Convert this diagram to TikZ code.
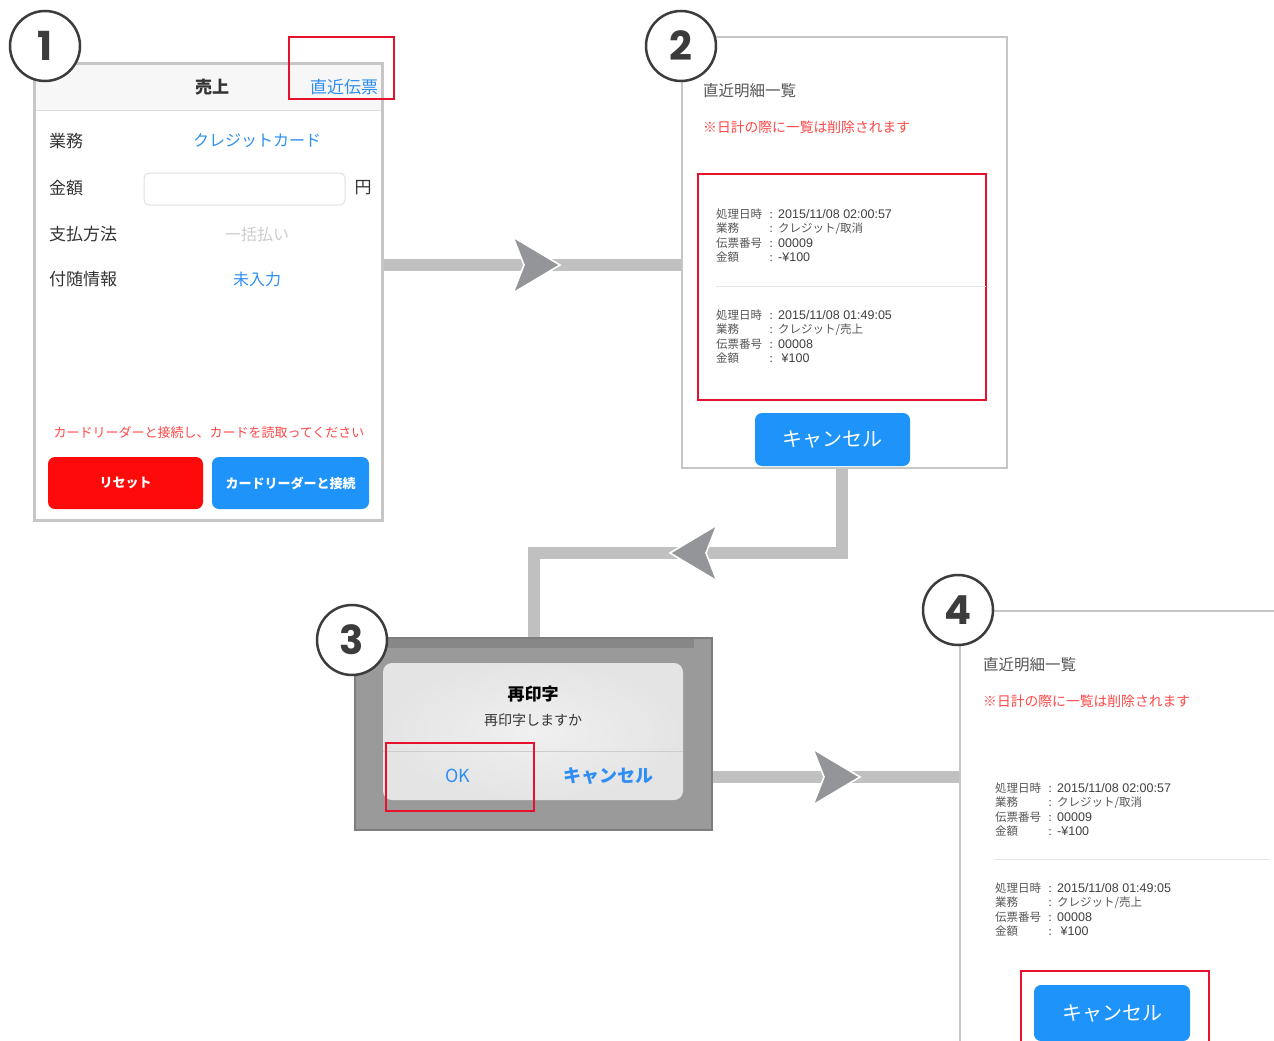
\documentclass[tikz,border=0pt]{standalone}
\usepackage{fontspec}
\setmainfont{Noto Sans CJK JP}
\newfontfamily\numfont{Poppins}
\newfontfamily\latn{Liberation Sans}
\definecolor{panelline}{HTML}{C6C6C6}
\definecolor{barg}{HTML}{C0C0C0}
\definecolor{headg}{HTML}{939598}
\definecolor{iosblue}{HTML}{2F8EF4}
\definecolor{btnblue}{HTML}{1E94FB}
\definecolor{btnred}{HTML}{FF0A0A}
\definecolor{hlred}{HTML}{E8112D}
\definecolor{warnred}{HTML}{FF4848}
\definecolor{txt}{HTML}{333333}
\definecolor{txtgray}{HTML}{555555}
\definecolor{numgray}{HTML}{404040}
\definecolor{circ}{HTML}{3C3C3C}
\definecolor{headfill}{HTML}{F7F7F7}
\definecolor{headline}{HTML}{DDDDDD}
\definecolor{fieldline}{HTML}{E0E0E0}
\definecolor{faintg}{HTML}{CDCDCD}
\definecolor{divg}{HTML}{E6E6E6}
\definecolor{dlgback}{HTML}{9A9A9A}
\definecolor{dlgstrip}{HTML}{878787}
\definecolor{dlgborder}{HTML}{7D7D7D}
\definecolor{dlgouter}{HTML}{E4E4E4}
\definecolor{dlginner}{HTML}{F0F0F0}
\definecolor{dlgsep}{HTML}{CDCDCD}
\newcommand{\recrow}[2]{\makebox[48pt][l]{#1}\makebox[14pt][c]{:}#2}
\newcommand{\nv}[1]{{\latn\fontsize{12.5}{12.5}\selectfont\color{numgray}#1}}
\tikzset{
  panelbox/.style={draw=panelline, line width=1.6pt, fill=white, inner sep=0pt},
  bar/.style={draw=barg, line width=12pt, line cap=butt, line join=miter},
  hlbox/.style={draw=hlred, line width=2pt},
  numcirc/.style={circle, draw=circ, line width=2.5pt, fill=white, minimum size=70pt, inner sep=0pt, font=\numfont\bfseries\fontsize{40}{40}\selectfont, text=circ},
  lbl/.style={inner sep=0pt, anchor=west, font=\fontsize{17}{17}\selectfont, text=txt},
  val/.style={inner sep=0pt, font=\fontsize{16}{16}\selectfont, text=iosblue},
  rec/.style={inner sep=0pt, anchor=west, font=\fontsize{11.5}{11.5}\selectfont, text=txtgray},
  ttl/.style={inner sep=0pt, anchor=west, font=\fontsize{15.5}{15.5}\selectfont, text=txtgray},
  warn/.style={inner sep=0pt, anchor=west, font=\fontsize{13.8}{13.8}\selectfont, text=warnred},
  btn/.style={rounded corners=7pt, inner sep=0pt, text=white},
  chev/.pic={\filldraw[fill=headg, draw=white, line width=1.6pt, line join=miter]
     (-47,-28) -- (0,0) -- (-47,28) -- (-36,0) -- cycle;}
}
\begin{document}
\begin{tikzpicture}[x=1pt,y=-1pt]
\useasboundingbox[fill=white] (0,0) rectangle (1274,1041);

% ---------- named reference coordinates for bar heights
\coordinate (r1) at (0,265);
\coordinate (r2) at (0,553);
\coordinate (r3) at (0,777);
\coordinate (x2) at (842,0);

% ---------- panel nodes
\node[panelbox, minimum width=347pt, minimum height=456pt] (p1) at (208.5,292) {};
\node[panelbox, minimum width=325pt, minimum height=431pt] (p2) at (844.5,252.5) {};
\node[draw=none, minimum width=340pt, minimum height=450pt, inner sep=0pt] (p4) at (1130,836) {};
\node[draw=none, minimum width=357pt, minimum height=192pt, inner sep=0pt] (p3) at (533.5,734) {};

% ---------- connectors
\draw[bar] (p1.east |- r1) -- (p2.west |- r1);
\pic at (560,265) {chev};

\draw[bar] (p2.south -| x2) -- (x2 |- r2) -- (p3.north |- r2) -- (p3.north);
\pic[rotate=180] at (670,553) {chev};

\draw[bar] (p3.east |- r3) -- (p4.west |- r3);
\pic at (860,777) {chev};

% ---------- panel 1
\fill[headfill] (36,65) rectangle (381,110);
\draw[headline, line width=1pt] (36,110.5) -- (381,110.5);
\draw[panelline, line width=1.6pt] (p1.north west) rectangle (p1.south east);
\node[inner sep=0pt, font=\bfseries\fontsize{17}{17}\selectfont, text=txt] (t1) at (212,87) {売上};
\node[inner sep=0pt, font=\fontsize{17}{17}\selectfont, text=iosblue] (t1r) at (344,87) {直近伝票};
\draw[hlbox] (289,37) rectangle (394,99);

\node[lbl] (l1) at (49,141) {業務};
\node[val] (v1) at (257,141) {クレジットカード};
\node[lbl] (l2) at (49,188) {金額};
\draw[fieldline, line width=1pt, rounded corners=5pt] (144,173) rectangle (345,205);
\node[inner sep=0pt, font=\fontsize{17}{17}\selectfont, text=txt] (yen) at (363,188) {円};
\node[lbl] (l3) at (49,234) {支払方法};
\node[val, text=faintg] (v3) at (257,234) {一括払い};
\node[lbl] (l4) at (49,279) {付随情報};
\node[val] (v4) at (257,279) {未入力};

\node[inner sep=0pt, font=\fontsize{13}{13}\selectfont, text=warnred] (w1) at (209,433) {カードリーダーと接続し、カードを読取ってください};
\node[btn, fill=btnred, minimum width=155pt, minimum height=52pt, font=\bfseries\fontsize{13}{13}\selectfont] (b1) at (125.5,483) {リセット};
\node[btn, fill=btnblue, minimum width=157pt, minimum height=52pt, font=\bfseries\fontsize{13}{13}\selectfont] (b2) at (290.5,483) {カードリーダーと接続};

\node[numcirc] (c1) at (45,46) {1};

% ---------- panel 2
\node[ttl] (h2) at (703,91) {直近明細一覧};
\node[warn] (w2) at (703,127) {※日計の際に一覧は削除されます};
\draw[hlbox] (698,174) rectangle (986,400);
\node[rec] (e2a) at (716,214) {\recrow{処理日時}{\nv{2015/11/08 02:00:57}}};
\node[rec] (e2b) at (716,228.5) {\recrow{業務}{クレジット/取消}};
\node[rec] (e2c) at (716,243) {\recrow{伝票番号}{\nv{00009}}};
\node[rec] (e2d) at (716,257.5) {\recrow{金額}{\nv{-¥100}}};
\draw[divg, line width=1pt] (716,286) -- (986,286);
\node[rec] (e2e) at (716,315) {\recrow{処理日時}{\nv{2015/11/08 01:49:05}}};
\node[rec] (e2f) at (716,329.5) {\recrow{業務}{クレジット/売上}};
\node[rec] (e2g) at (716,344) {\recrow{伝票番号}{\nv{00008}}};
\node[rec] (e2h) at (716,358.5) {\recrow{金額}{\nv{\ ¥100}}};
\node[btn, fill=btnblue, minimum width=155pt, minimum height=53pt, font=\fontsize{20}{20}\selectfont] (b3) at (832.5,439.5) {キャンセル};
\node[numcirc] (c2) at (681,46) {2};

% ---------- panel 3
\fill[dlgback] (p3.north west) rectangle (p3.south east);
\fill[dlgstrip] (355,638) rectangle (694,648);
\draw[dlgborder, line width=1.5pt] (p3.north west) rectangle (p3.south east);
\shade[rounded corners=9pt, inner color=dlginner, outer color=dlgouter] (383,663) rectangle (683,800);
\draw[dlgsep, line width=1pt] (383,751.5) -- (683,751.5);
\node[inner sep=0pt, font=\bfseries\fontsize{17}{17}\selectfont, text=black] (d1) at (533,694) {再印字};
\node[inner sep=0pt, font=\fontsize{14}{14}\selectfont, text=txt] (d2) at (533,720) {再印字しますか};
\node[inner sep=0pt, font=\fontsize{18}{18}\selectfont, text=iosblue] (ok) at (458,776) {OK};
\node[inner sep=0pt, font=\bfseries\fontsize{18}{18}\selectfont, text=iosblue] (cn) at (608,776) {キャンセル};
\draw[hlbox] (386,743) rectangle (534,811);
\node[numcirc] (c3) at (352,640) {3};

% ---------- panel 4
\draw[panelline, line width=1.6pt] (p4.north west) -- (p4.south west);
\draw[panelline, line width=1.5pt] (p4.north west) -- (p4.north east);
\node[ttl] (h4) at (983,665) {直近明細一覧};
\node[warn] (w4) at (983,701) {※日計の際に一覧は削除されます};
\node[rec] (e4a) at (995,788) {\recrow{処理日時}{\nv{2015/11/08 02:00:57}}};
\node[rec] (e4b) at (995,802.5) {\recrow{業務}{クレジット/取消}};
\node[rec] (e4c) at (995,817) {\recrow{伝票番号}{\nv{00009}}};
\node[rec] (e4d) at (995,831.5) {\recrow{金額}{\nv{-¥100}}};
\draw[divg, line width=1pt] (995,859) -- (1270,859);
\node[rec] (e4e) at (995,888) {\recrow{処理日時}{\nv{2015/11/08 01:49:05}}};
\node[rec] (e4f) at (995,902.5) {\recrow{業務}{クレジット/売上}};
\node[rec] (e4g) at (995,917) {\recrow{伝票番号}{\nv{00008}}};
\node[rec] (e4h) at (995,931.5) {\recrow{金額}{\nv{\ ¥100}}};
\node[btn, fill=btnblue, minimum width=156pt, minimum height=56pt, font=\fontsize{20}{20}\selectfont] (b4) at (1112,1013) {キャンセル};
\draw[hlbox] (1021,1045) -- (1021,971) -- (1209,971) -- (1209,1045);
\node[numcirc] (c4) at (958,610) {4};
\end{tikzpicture}
\end{document}
